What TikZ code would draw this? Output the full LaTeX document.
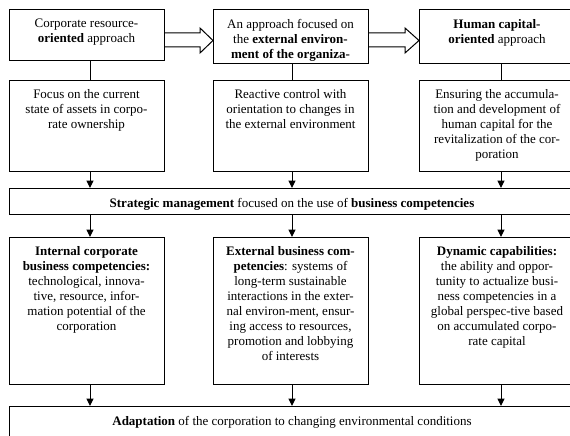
\documentclass[tikz,border=0pt]{standalone}
\usepackage{fontspec}
\setmainfont{Liberation Serif}
\usetikzlibrary{arrows.meta,calc}
\begin{document}
\begin{tikzpicture}[x=1pt,y=-1pt,
  box/.style={draw,line width=1pt,inner sep=0pt,outer sep=0pt,anchor=north west},
  txt/.style={inner sep=0pt,align=center,font=\fontsize{13}{15}\selectfont,anchor=north},
  conn/.style={line width=1pt},
  arr/.style={line width=1pt,-{Triangle[length=7.5pt,width=7pt]}},
  fat/.style={draw,line width=1pt,line join=miter}]
\useasboundingbox (0,0) rectangle (570,436);
% boxes
\node[box,minimum width=155pt,minimum height=51pt] (b1) at (9,10) {};
\node[box,minimum width=155pt,minimum height=54pt] (b2) at (213,10) {};
\node[box,minimum width=156pt,minimum height=54pt] (b3) at (419,10) {};
\node[box,minimum width=155pt,minimum height=91pt] (b4) at (9,80) {};
\node[box,minimum width=155pt,minimum height=91pt] (b5) at (213,80) {};
\node[box,minimum width=156pt,minimum height=91pt] (b6) at (419,80) {};
\node[box,minimum width=566pt,minimum height=26pt] (s) at (9,188) {};
\node[box,minimum width=155pt,minimum height=147pt] (b7) at (9,237) {};
\node[box,minimum width=155pt,minimum height=147pt] (b8) at (213,237) {};
\node[box,minimum width=156pt,minimum height=147pt] (b9) at (419,237) {};
\node[box,minimum width=566pt,minimum height=40pt] (ad) at (9,406) {};
% texts
\node[txt] (t1) at ([yshift=-9pt]b1.north) {Corporate resource-\\\textbf{oriented} approach};
\node[txt] (t2) at ([yshift=-9pt]b2.north) {An approach focused on\\the \textbf{external environ-}\\\textbf{ment of the organiza-}};
\node[txt] (t3) at ([yshift=-9pt]b3.north) {\textbf{Human capital-}\\\textbf{oriented} approach};
\node[txt] (t4) at ([yshift=-9pt]b4.north) {Focus on the current\\state of assets in corpo-\\rate ownership};
\node[txt] (t5) at ([yshift=-9pt]b5.north) {Reactive control with\\orientation to changes in\\the external environment};
\node[txt] (t6) at ([yshift=-9pt]b6.north) {Ensuring the accumula-\\tion and development of\\human capital for the\\revitalization of the cor-\\poration};
\node[txt] (ts) at ([yshift=-10pt]s.north) {\textbf{Strategic management} focused on the use of \textbf{business competencies}};
\node[txt] (t7) at ([yshift=-9pt]b7.north) {\textbf{Internal corporate}\\\textbf{business competencies:}\\technological, innova-\\tive, resource, infor-\\mation potential of the\\corporation};
\node[txt] (t8) at ([yshift=-9pt]b8.north) {\textbf{External business com-}\\\textbf{petencies}: systems of\\long-term sustainable\\interactions in the exter-\\nal environ-ment, ensur-\\ing access to resources,\\promotion and lobbying\\of interests};
\node[txt] (t9) at ([yshift=-9pt]b9.north) {\textbf{Dynamic capabilities:}\\the ability and oppor-\\tunity to actualize busi-\\ness competencies in a\\global perspec-tive based\\on accumulated corpo-\\rate capital};
\node[txt] (ta) at ([yshift=-10pt]ad.north) {\textbf{Adaptation} of the corporation to changing environmental conditions};
% fat arrows
\draw[fat] ($(b1.north east)+(0,23)$) -- ($(b2.north west)+(-13,23)$) -- ($(b2.north west)+(-13,18)$)
  -- ($(b2.north west)+(0,30.5)$) -- ($(b2.north west)+(-13,43)$) -- ($(b2.north west)+(-13,37)$)
  -- ($(b1.north east)+(0,37)$);
\draw[fat] ($(b2.north east)+(0,23)$) -- ($(b3.north west)+(-14,23)$) -- ($(b3.north west)+(-14,18)$)
  -- ($(b3.north west)+(0,30.5)$) -- ($(b3.north west)+(-14,43)$) -- ($(b3.north west)+(-14,37)$)
  -- ($(b2.north east)+(0,37)$);
% columns
\coordinate (c1) at (90,0);
\coordinate (c2) at (292,0);
\coordinate (c3) at (501,0);
\draw[conn] (b1.south -| c1) -- (b4.north -| c1);
\draw[conn] (b2.south -| c2) -- (b5.north -| c2);
\draw[conn] (b3.south -| c3) -- (b6.north -| c3);
\draw[arr] (b4.south -| c1) -- (s.north -| c1);
\draw[arr] (b5.south -| c2) -- (s.north -| c2);
\draw[arr] (b6.south -| c3) -- (s.north -| c3);
\draw[arr] (s.south -| c1) -- (b7.north -| c1);
\draw[arr] (s.south -| c2) -- (b8.north -| c2);
\draw[arr] (s.south -| c3) -- (b9.north -| c3);
\draw[arr] (b7.south -| c1) -- (ad.north -| c1);
\draw[arr] (b8.south -| c2) -- (ad.north -| c2);
\draw[arr] (b9.south -| c3) -- (ad.north -| c3);
\end{tikzpicture}
\end{document}
